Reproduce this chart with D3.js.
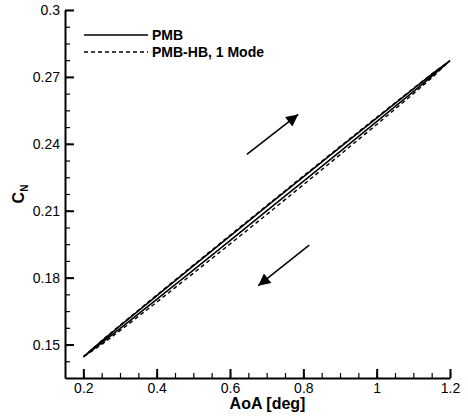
<!DOCTYPE html>
<html>
<head>
<meta charset="utf-8">
<script src="https://cdn.jsdelivr.net/npm/d3@7"></script>
<style>
  body { margin: 0; background: #fff; }
  text { font-family: "Liberation Sans", Arial, sans-serif; }
</style>
</head>
<body>
<svg id="svg_cn" width="468" height="419"></svg>
<script>
// 攻角取值
const aoa = [0.2, 0.25, 0.3, 0.4, 0.5, 0.6, 0.7, 0.8, 0.9, 1.0, 1.1, 1.15, 1.2];

// PMB 上支（攻角增大）与下支（攻角减小）
const pmbUp   = [0.1445, 0.15158, 0.15838, 0.17186, 0.18526, 0.19860, 0.2119, 0.22516, 0.23838, 0.25154, 0.26462, 0.27110, 0.2773];
const pmbDown = [0.1445, 0.15070, 0.15718, 0.17026, 0.18342, 0.19664, 0.2099, 0.22320, 0.23654, 0.24994, 0.26342, 0.27022, 0.2773];

// PMB-HB, 1 Mode
const hbUp   = [0.1445, 0.15175, 0.15862, 0.17218, 0.18562, 0.19899, 0.2123, 0.22558, 0.23874, 0.25186, 0.26486, 0.27127, 0.2773];
const hbDown = [0.1445, 0.15001, 0.15622, 0.16898, 0.18196, 0.19507, 0.2083, 0.22163, 0.23508, 0.24866, 0.26246, 0.26953, 0.2773];

// 刻度
const xTicks = [0.2, 0.4, 0.6, 0.8, 1, 1.2];
const yTicks = [0.15, 0.18, 0.21, 0.24, 0.27, 0.3];

// 方向箭头 [起点aoa, 起点cn, 终点aoa, 终点cn]
const arrows = [
  [0.646, 0.2353, 0.786, 0.2532],
  [0.816, 0.1946, 0.677, 0.1764]
];

const legendNames = ["PMB", "PMB-HB, 1 Mode"];

var svg = d3.select("#svg_cn");

let mLeft = 65, mRight = 450, mTop = 10, mBottom = 378;

let x = d3.scaleLinear().domain([0.15, 1.2]).range([mLeft, mRight]);
let y = d3.scaleLinear().domain([0.135, 0.3]).range([mBottom, mTop]);

// 箭头标记
svg.append("defs").append("marker")
  .attr("id", "head")
  .attr("viewBox", "0 0 10 10")
  .attr("refX", 10).attr("refY", 5)
  .attr("markerWidth", 19).attr("markerHeight", 12)
  .attr("markerUnits", "userSpaceOnUse")
  .attr("orient", "auto")
  .append("path")
  .attr("d", "M0,0 L10,5 L0,10 Z")
  .attr("fill", "#000");

// 次刻度
let xMinor = d3.range(0.2, 1.2001, 0.05);
let yMinor = d3.range(0.1425, 0.3001, 0.0075);

svg.append("g")
  .attr("transform", `translate(0,${mBottom})`)
  .call(d3.axisBottom(x).tickValues(xMinor).tickSize(-5).tickFormat(""))
  .call(g => g.select(".domain").remove())
  .selectAll("line").attr("stroke-width", 1.2);

svg.append("g")
  .attr("transform", `translate(${mLeft},0)`)
  .call(d3.axisLeft(y).tickValues(yMinor).tickSize(-5).tickFormat(""))
  .call(g => g.select(".domain").remove())
  .selectAll("line").attr("stroke-width", 1.2);

// 主坐标轴
let gx = svg.append("g")
  .attr("transform", `translate(0,${mBottom})`)
  .call(d3.axisBottom(x).tickValues(xTicks).tickSize(-9).tickSizeOuter(0).tickPadding(5)
    .tickFormat(d => d3.format("")(d)));

let gy = svg.append("g")
  .attr("transform", `translate(${mLeft},0)`)
  .call(d3.axisLeft(y).tickValues(yTicks).tickSize(-9).tickSizeOuter(0).tickPadding(5)
    .tickFormat(d => d3.format("")(d)));

[gx, gy].forEach(g => {
  g.select(".domain").attr("stroke-width", 2);
  g.selectAll(".tick line").attr("stroke-width", 2);
  g.selectAll("text").attr("font-size", 14).attr("fill", "#000");
});

// 曲线
let line = d3.line()
  .x(d => x(d[0]))
  .y(d => y(d[1]));

let series = [
  { up: pmbUp, down: pmbDown, dash: null, w: 1.6 },
  { up: hbUp, down: hbDown, dash: "4,3", w: 1.4 }
];

series.forEach(s => {
  let pts = aoa.map((a, i) => [a, s.up[i]])
    .concat(aoa.map((a, i) => [a, s.down[i]]).reverse());
  svg.append("path")
    .attr("d", line(pts))
    .attr("fill", "none")
    .attr("stroke", "#000")
    .attr("stroke-width", s.w)
    .attr("stroke-dasharray", s.dash);
});

// 箭头
svg.selectAll(".arrow")
  .data(arrows)
  .enter()
  .append("line")
  .attr("x1", d => x(d[0])).attr("y1", d => y(d[1]))
  .attr("x2", d => x(d[2])).attr("y2", d => y(d[3]))
  .attr("stroke", "#000")
  .attr("stroke-width", 1.5)
  .attr("marker-end", "url(#head)");

// 图例
let legend = svg.append("g").attr("transform", "translate(84,35)");
legend.selectAll("line")
  .data(legendNames)
  .enter()
  .append("line")
  .attr("x1", 0).attr("x2", 64)
  .attr("y1", (d, i) => i * 17).attr("y2", (d, i) => i * 17)
  .attr("stroke", "#000")
  .attr("stroke-width", 1.6)
  .attr("stroke-dasharray", (d, i) => i ? "4,3" : null);
legend.selectAll("text")
  .data(legendNames)
  .enter()
  .append("text")
  .attr("x", 68)
  .attr("y", (d, i) => i * 17 + 5)
  .attr("font-size", 14)
  .attr("font-weight", "bold")
  .text(d => d);

// 轴标题
svg.append("text")
  .attr("x", (mLeft + mRight) / 2 + 10)
  .attr("y", 409)
  .attr("text-anchor", "middle")
  .attr("font-size", 16)
  .attr("font-weight", "bold")
  .text("AoA [deg]");

let yl = svg.append("text")
  .attr("transform", "translate(24,194) rotate(-90)")
  .attr("text-anchor", "middle")
  .attr("font-weight", "bold")
  .attr("font-size", 16);
yl.append("tspan").text("C");
yl.append("tspan").attr("font-size", 10).attr("dy", 4).text("N");
</script>
</body>
</html>
